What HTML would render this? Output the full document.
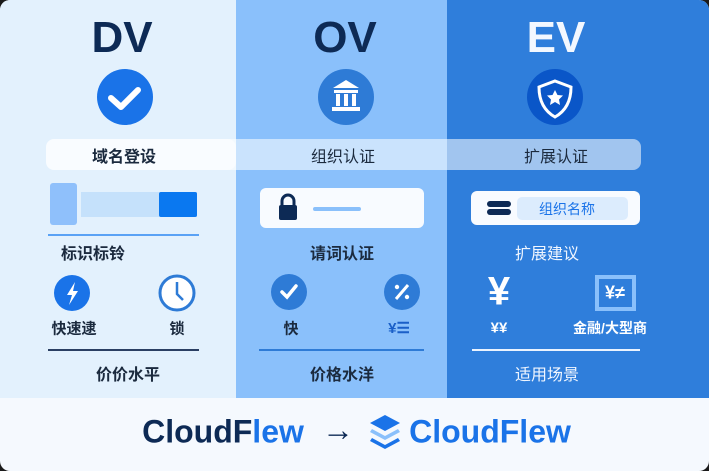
<!DOCTYPE html>
<html><head><meta charset="utf-8"><style>
*{margin:0;padding:0;box-sizing:border-box}
body{width:709px;height:471px;overflow:hidden;background:#1a1a1a;font-family:"Liberation Sans","Noto Sans CJK SC",sans-serif}
#w{position:absolute;left:0;top:0;width:709px;height:471px;border-radius:10px;overflow:hidden;background:#f5f9fe}
.a{position:absolute}
.c{position:absolute;transform:translate(-50%,-50%);white-space:nowrap}
.t{font-size:44px;font-weight:bold;color:#0d2a55}
.l{font-size:16px;font-weight:bold;color:#1b2a3e}
.s{font-size:15px;font-weight:bold;color:#1b2a3e}
</style></head><body><div id="w">
<div class="a" style="left:0;top:0;width:236px;height:398px;background:#e3f1fd"></div>
<div class="a" style="left:236px;top:0;width:211px;height:398px;background:#8ac0fb"></div>
<div class="a" style="left:447px;top:0;width:262px;height:398px;background:#2f7edb"></div>
<div class="c t" style="left:122px;top:38px">DV</div>
<div class="c t" style="left:345px;top:38px">OV</div>
<div class="c t" style="left:556px;top:38px;color:#f3f8ff">EV</div>
<svg class="a" style="left:0;top:0" width="709" height="398">
<circle cx="125" cy="97" r="28" fill="#1a73e8"/>
<path d="M111 98 L121 107 L138 90" stroke="#fff" stroke-width="6" fill="none" stroke-linecap="round" stroke-linejoin="round"/>
<circle cx="346" cy="97" r="28" fill="#2e7bd6"/>
<path d="M333 88 L346 80 L359 88 Z" fill="#fff"/><rect x="334" y="90" width="24" height="3" fill="#fff"/>
<rect x="336" y="94" width="4" height="12" fill="#fff"/><rect x="344" y="94" width="4" height="12" fill="#fff"/><rect x="352" y="94" width="4" height="12" fill="#fff"/>
<rect x="332" y="107" width="28" height="4" fill="#fff"/>
<circle cx="555" cy="97" r="28" fill="#0a56c8"/>
<path d="M555 81 L571 87 Q571 108 555 117 Q539 108 539 87 Z" fill="none" stroke="#fff" stroke-width="3"/>
<path d="M555 90 l2.5 5 5.5 .5 -4 4 1 5.5 -5 -3 -5 3 1 -5.5 -4 -4 5.5 -.5z" fill="#fff"/>
<rect x="46" y="139" width="595" height="31" rx="8" fill="#fff" fill-opacity="0.55"/>
<rect x="46" y="139" width="190" height="31" rx="8" fill="#fff" fill-opacity="0.5"/>
<rect x="50" y="183" width="27" height="42" rx="3" fill="#8fc0fb"/>
<rect x="81" y="192" width="116" height="25" fill="#c5e1fb"/>
<rect x="159" y="192" width="38" height="25" rx="2" fill="#0a78f0"/>
<rect x="48" y="234" width="151" height="2" fill="#5aa2f5"/>
<rect x="260" y="188" width="164" height="40" rx="6" fill="#f8fbff"/>
<rect x="279" y="205" width="18" height="15" rx="2" fill="#0d2a55"/>
<path d="M282 205 v-4 a6 6 0 0 1 12 0 v4" stroke="#0d2a55" stroke-width="3" fill="none"/>
<rect x="313" y="207" width="48" height="4" rx="2" fill="#8ac0fb"/>
<rect x="471" y="191" width="169" height="34" rx="6" fill="#f8fbff"/>
<rect x="517" y="197" width="111" height="23" rx="5" fill="#dcecfd"/>
<rect x="487" y="201" width="24" height="6" rx="3" fill="#0d2a55"/><rect x="487" y="209" width="24" height="6" rx="3" fill="#0d2a55"/>
<circle cx="72" cy="293" r="18" fill="#1a73e8"/>
<path d="M75 282 L67 295 L72 295 L69 305 L78 291 L73 291 Z" fill="#fff"/>
<circle cx="177" cy="293" r="17" fill="#fff" stroke="#2e7bd6" stroke-width="3"/>
<path d="M177 282 V294 L183 300" stroke="#2e7bd6" stroke-width="2.5" fill="none"/>
<circle cx="289" cy="292" r="18" fill="#2e7bd6"/>
<path d="M282 292 L287 297 L296 286" stroke="#fff" stroke-width="3.5" fill="none" stroke-linecap="round"/>
<circle cx="402" cy="292" r="18" fill="#2e7bd6"/>
<path d="M396 299 L408 285" stroke="#fff" stroke-width="3"/><circle cx="397" cy="287" r="2.2" fill="#fff"/><circle cx="407" cy="297" r="2.2" fill="#fff"/>
<rect x="595" y="275" width="41" height="36" fill="#8ac0fb"/><rect x="599" y="279" width="33" height="28" fill="#2f7edb"/>
<rect x="48" y="349" width="151" height="2" fill="#2a3f63"/>
<rect x="259" y="349" width="165" height="2" fill="#2e7bd6"/>
<rect x="472" y="349" width="168" height="2" fill="#eaf3ff"/>
</svg>
<div class="c l" style="left:124px;top:155px">域名登设</div>
<div class="c l" style="left:343px;top:155px;font-weight:normal">组织认证</div>
<div class="c l" style="left:556px;top:155px;font-weight:normal">扩展认证</div>
<div class="c" style="left:567px;top:209px;font-size:14px;color:#1a73e8">组织名称</div>
<div class="c l" style="left:93px;top:252px">标识标铃</div>
<div class="c l" style="left:342px;top:252px">请词认证</div>
<div class="c l" style="left:547px;top:252px;color:#f0f6ff;font-weight:normal">扩展建议</div>
<div class="c" style="left:499px;top:292px;font-size:40px;font-weight:bold;color:#fff">¥</div>
<div class="c" style="left:615px;top:293px;font-size:18px;font-weight:bold;color:#fff">¥≠</div>
<div class="c s" style="left:74px;top:328px">快速逮</div>
<div class="c s" style="left:177px;top:328px">锁</div>
<div class="c s" style="left:291px;top:328px">快</div>
<div class="c s" style="left:399px;top:328px;color:#1a5fc8">¥☰</div>
<div class="c s" style="left:499px;top:328px;color:#fff">¥¥</div>
<div class="c" style="left:610px;top:328px;font-size:14px;font-weight:bold;color:#fff">金融/大型商</div>
<div class="c l" style="left:128px;top:373px">价价水平</div>
<div class="c l" style="left:342px;top:373px">价格水洋</div>
<div class="c l" style="left:547px;top:373px;color:#f0f6ff;font-weight:normal">适用场景</div>
<div class="c" style="left:223px;top:432px;font-size:32px;font-weight:bold;color:#0d2a55">CloudF<span style="color:#1a73e8">lew</span></div>
<div class="c" style="left:338px;top:430px;font-size:32px;color:#0d2a55">→</div>
<svg class="a" style="left:368px;top:413px" width="34" height="38">
<path d="M17 2 L32 10 L17 18 L2 10 Z" fill="#1a73e8"/>
<path d="M4 16 L17 23 L30 16 L32 19 L17 27 L2 19 Z" fill="#8ac0fb"/>
<path d="M4 25 L17 32 L30 25 L32 28 L17 36 L2 28 Z" fill="#1a73e8"/>
</svg>
<div class="c" style="left:490px;top:432px;font-size:32px;font-weight:bold;color:#1a73e8">CloudFlew</div>
</div></body></html>
